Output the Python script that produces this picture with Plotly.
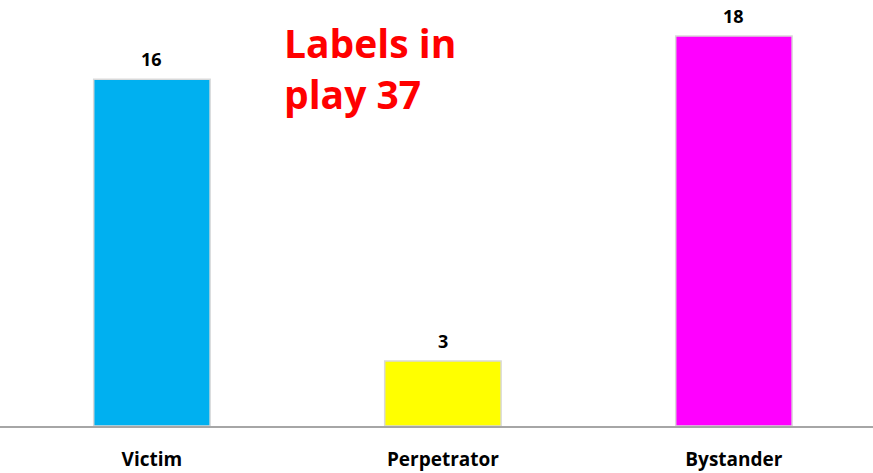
import plotly.graph_objects as go

# Role counts
categories = ["Victim", "Perpetrator", "Bystander"]
counts = [16, 3, 18]
bar_colors = ["#00B0F0", "#FFFF00", "#FF00FF"]
note_text = "Labels in<br>play 37"

FONT = "Open Sans"

fig = go.Figure(
    go.Bar(
        x=categories,
        y=counts,
        marker=dict(color=bar_colors, line=dict(color="#D9D9D9", width=1.5)),
        width=0.4,
        hoverinfo="x+y",
    )
)

# Value labels just above each bar
for cat, val in zip(categories, counts):
    fig.add_annotation(
        x=cat, y=val, text=str(val),
        xref="x", yref="y",
        yanchor="bottom", yshift=6,
        showarrow=False,
        font=dict(family=FONT, size=18, color="#000000", weight="bold"),
    )

fig.add_annotation(
    text=note_text,
    xref="paper", yref="paper",
    x=0.323, y=0.968,
    xanchor="left", yanchor="top",
    align="left",
    showarrow=False,
    font=dict(family=FONT, size=39, color="#FF0000", weight="bold"),
)

fig.update_layout(
    width=873,
    height=473,
    margin=dict(l=0, r=0, t=0, b=47),
    paper_bgcolor="white",
    plot_bgcolor="white",
    showlegend=False,
    font=dict(family=FONT, color="#000000"),
)
fig.update_xaxes(
    range=[-0.522, 2.478],
    showline=True,
    linecolor="#A6A6A6",
    linewidth=1.5,
    showgrid=False,
    ticks="",
    ticklabelstandoff=15,
    tickfont=dict(family=FONT, size=19, color="#000000", weight="bold"),
)
fig.update_yaxes(
    range=[0, 19.66],
    visible=False,
    showgrid=False,
    zeroline=False,
)

fig.write_html("out.html")
